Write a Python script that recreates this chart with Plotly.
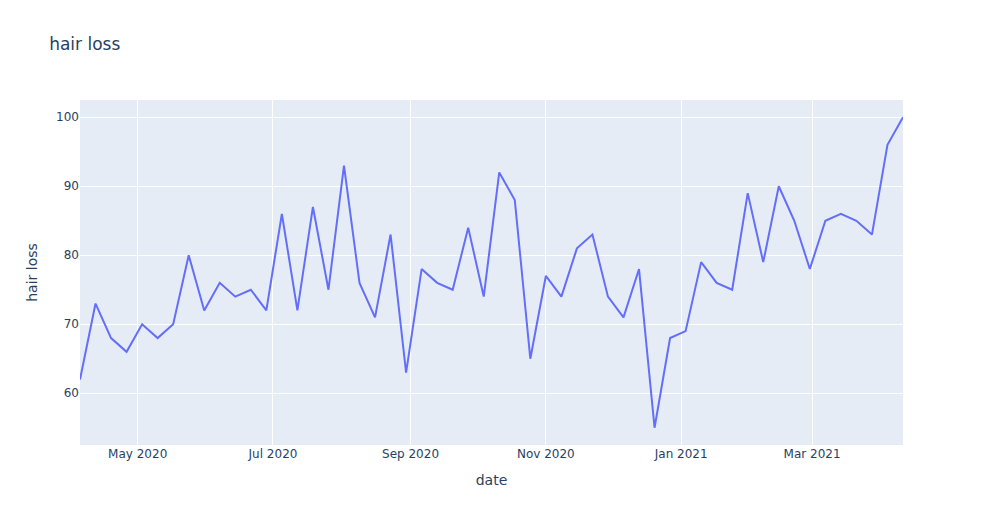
import pandas as pd
import plotly.graph_objects as go

start_date = "2020-04-05"
hair_loss = [62, 73, 68, 66, 70, 68, 70, 80, 72, 76, 74, 75, 72, 86, 72, 87, 75, 93,
             76, 71, 83, 63, 78, 76, 75, 84, 74, 92, 88, 65, 77, 74, 81, 83, 74,
             71, 78, 55, 68, 69, 79, 76, 75, 89, 79, 90, 85, 78, 85, 86, 85, 83, 96, 100]
dates = pd.date_range(start=start_date, periods=len(hair_loss), freq="7D")

fig = go.Figure(go.Scatter(x=dates, y=hair_loss, mode="lines", name="hair loss"))
fig.update_layout(
    title=dict(text="hair loss"),
    xaxis_title="date",
    yaxis_title="hair loss",
    width=983,
    height=525,
    template="plotly",
    font=dict(family="Verdana, 'DejaVu Sans', sans-serif"),
)
fig.write_html("out.html", config={"displayModeBar": False},
               post_script="document.body.style.margin='0';")
